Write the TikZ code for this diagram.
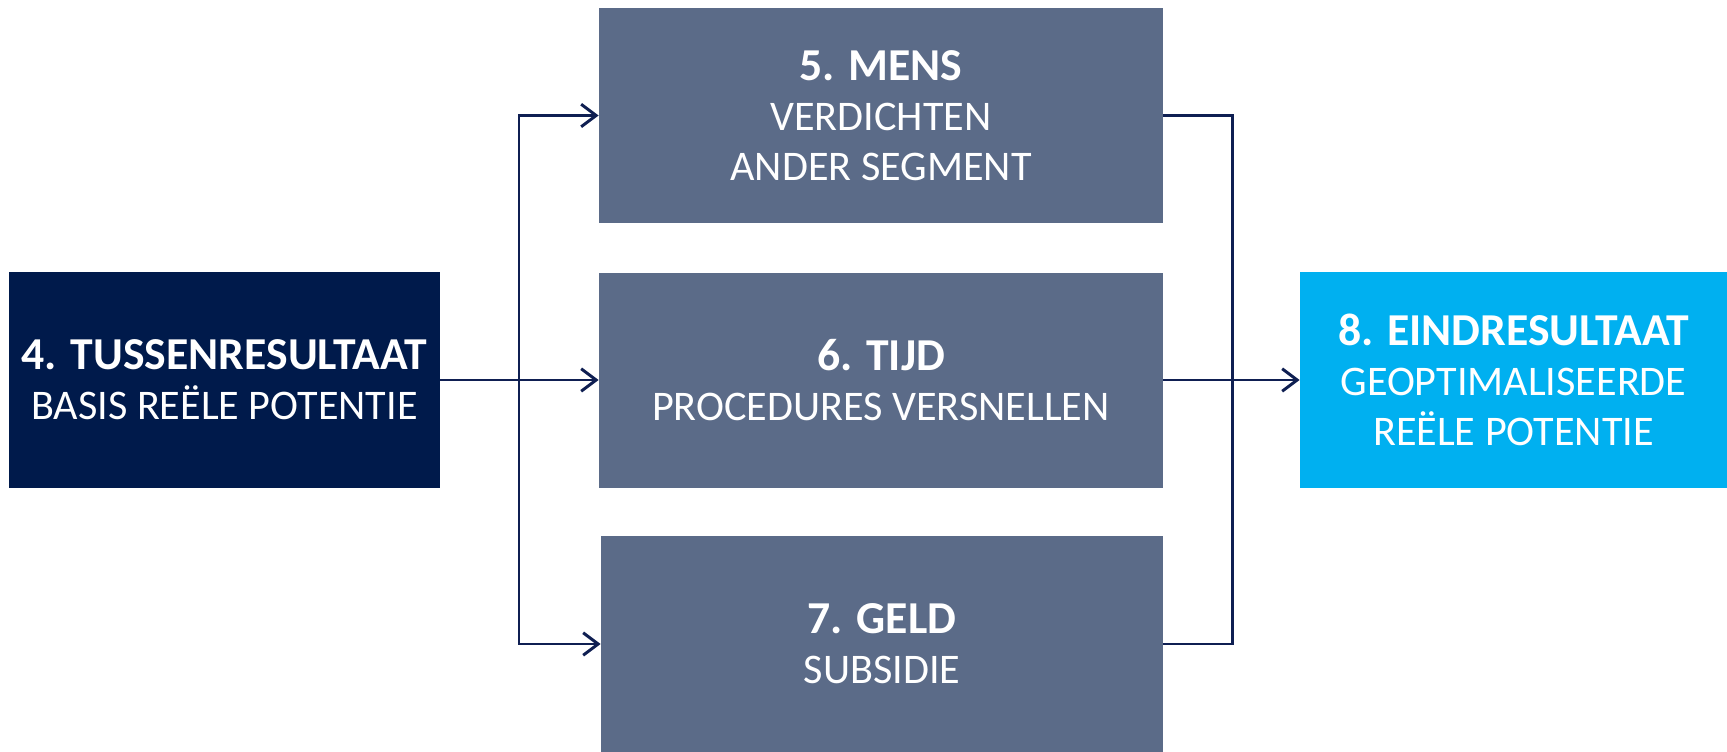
\documentclass[tikz,border=0pt]{standalone}
\usepackage{fontspec}
\setmainfont{Carlito}
\usetikzlibrary{arrows.meta}

\definecolor{navy}{HTML}{001A4B}
\definecolor{slate}{HTML}{5B6B88}
\definecolor{sky}{HTML}{00B0F0}
\definecolor{linkblue}{HTML}{0F1F52}

\newcommand{\kop}[1]{{\fontsize{26}{28.3}\selectfont\textbf{#1}}}

\tikzset{
  blok/.style={fill=slate, text=white, align=center, inner sep=0pt,
    minimum width=11.28cm, minimum height=4.3cm,
    font=\fontsize{24}{28.3}\selectfont},
  pijl/.style={draw=linkblue, line width=1.7pt, -{Straight Barb[length=3mm,width=4.5mm]}},
  lijn/.style={draw=linkblue, line width=1.7pt},
}

\begin{document}
\begin{tikzpicture}
    \useasboundingbox (0,0) rectangle (34.54,-15.04);

    % blokken
    \node[blok, fill=navy, minimum width=8.62cm, minimum height=4.32cm] (tussen) at (4.49,-7.60)
        {\kop{4. TUSSENRESULTAAT}\\BASIS REËLE POTENTIE};

    \node[blok] (mens) at (17.62,-2.31) {\kop{5. MENS}\\VERDICHTEN\\ANDER SEGMENT};
    \node[blok] (tijd) at (17.62,-7.60) {\kop{6. TIJD}\\PROCEDURES VERSNELLEN};
    \node[blok, minimum width=11.24cm, minimum height=4.32cm] (geld) at (17.64,-12.88)
        {\kop{7. GELD}\\SUBSIDIE};

    \node[blok, fill=sky, minimum width=8.54cm, minimum height=4.32cm] (eind) at (30.27,-7.60)
        {\kop{8. EINDRESULTAAT}\\GEOPTIMALISEERDE\\REËLE POTENTIE};

    % verbindingen
    \coordinate (splits) at (10.38,-7.60);
    \coordinate (samen) at (24.64,-7.60);

    \draw[pijl] (tussen.east) -- (tijd.west);
    \draw[pijl] (splits) |- (mens.west);
    \draw[pijl] (splits) |- (geld.west);

    \draw[lijn] (mens.east) -| (samen);
    \draw[lijn] (geld.east) -| (samen);
    \draw[pijl] (tijd.east) -- (eind.west);

\end{tikzpicture}
\end{document}
